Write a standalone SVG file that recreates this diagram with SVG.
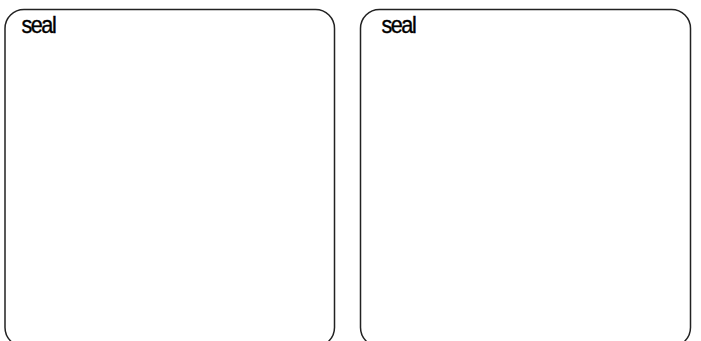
<svg xmlns="http://www.w3.org/2000/svg" width="701" height="341" viewBox="0 0 701 341">
<style>
.box{fill:#fff;stroke:#222;stroke-width:1.5}
.lbl{font-family:"Liberation Sans",Arial,sans-serif;font-size:23.5px;letter-spacing:-1.6px;fill:#000;stroke:#000;stroke-width:0.4}
</style>
<rect width="701" height="341" fill="#fff"/>
<g id="seal1">
<rect class="box" x="5" y="9.5" width="329.5" height="337" rx="19" ry="19"/>
<text class="lbl" transform="translate(21.5 33.3) scale(0.92 1)">seal</text>
</g>
<g id="seal2">
<rect class="box" x="360.5" y="9.5" width="330" height="337" rx="19" ry="19"/>
<text class="lbl" transform="translate(381.5 33.3) scale(0.92 1)">seal</text>
</g>
<g id="connectors"></g>
</svg>
